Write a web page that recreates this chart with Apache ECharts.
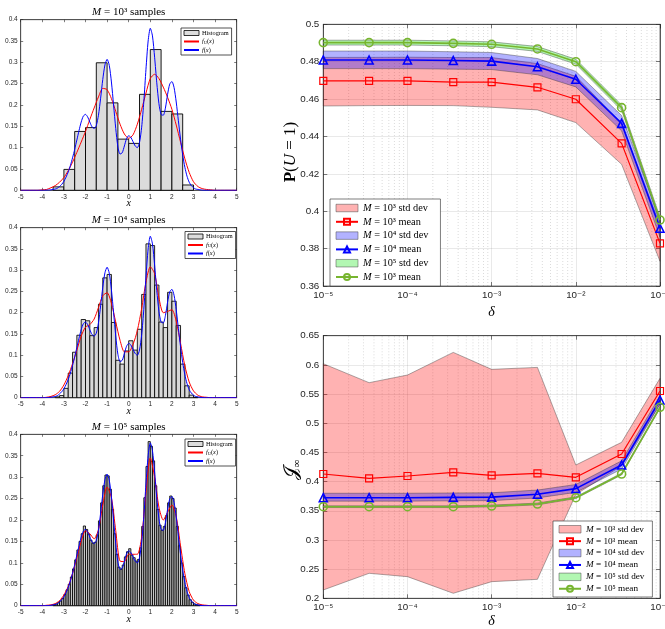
<!DOCTYPE html>
<html><head><meta charset="utf-8">
<script src="https://cdn.jsdelivr.net/npm/echarts@6/dist/echarts.min.js"></script>
<style>html,body{margin:0;padding:0;background:#fff}#c{width:665px;height:629px}</style>
</head><body><div id="c"></div>
<script>
// ---------------- DATA ----------------
// Histograms (bin start, bin width, heights)
const hist1Start = -3.5, hist1Bin = 0.5;
const hist1 = [0.008, 0.049, 0.138, 0.147, 0.299, 0.205, 0.12, 0.11, 0.225, 0.33, 0.185, 0.179, 0.0125];
const hist2Start = -3.4, hist2Bin = 0.2;
const hist2 = [0.002, 0.005, 0.022, 0.058, 0.107, 0.147, 0.184, 0.181, 0.146, 0.165, 0.22, 0.282, 0.29, 0.177,
  0.088, 0.079, 0.11, 0.134, 0.112, 0.161, 0.243, 0.362, 0.358, 0.265, 0.178, 0.165, 0.248, 0.227, 0.17, 0.079,
  0.028, 0.006, 0.001];
const hist3Start = -3.5, hist3Bin = 0.1;
const hist3 = [0.002, 0.004, 0.007, 0.011, 0.017, 0.026, 0.037, 0.05, 0.067, 0.086, 0.107, 0.13, 0.15, 0.168,
  0.186, 0.178, 0.167, 0.153, 0.146, 0.148, 0.165, 0.198, 0.24, 0.28, 0.305, 0.303, 0.272, 0.225, 0.168, 0.12,
  0.09, 0.085, 0.095, 0.114, 0.126, 0.133, 0.118, 0.112, 0.104, 0.108, 0.135, 0.185, 0.252, 0.325, 0.383, 0.372,
  0.338, 0.28, 0.225, 0.188, 0.176, 0.185, 0.21, 0.24, 0.256, 0.25, 0.228, 0.185, 0.14, 0.1, 0.068, 0.042, 0.025,
  0.014, 0.008, 0.004, 0.002, 0.001];

// true density f(x)
const fX = [-5, -4, -3.7, -3.6, -3.5, -3.4, -3.3, -3.2, -3.1, -3.0, -2.9, -2.8, -2.7, -2.6, -2.5, -2.4, -2.3, -2.2, -2.1,
  -2.0, -1.9, -1.8, -1.7, -1.6, -1.5, -1.4, -1.3, -1.2, -1.1, -1.0, -0.9, -0.8, -0.7, -0.6, -0.5, -0.4, -0.3, -0.2,
  -0.1, 0.0, 0.1, 0.2, 0.3, 0.4, 0.5, 0.6, 0.7, 0.8, 0.9, 1.0, 1.1, 1.2, 1.3, 1.4, 1.5, 1.6, 1.7, 1.8, 1.9, 2.0,
  2.1, 2.2, 2.3, 2.4, 2.5, 2.6, 2.7, 2.8, 2.9, 3.0, 3.1, 3.2, 3.3, 3.5, 4, 5];
const fY = [0, 0, 0.0005, 0.001, 0.002, 0.003, 0.005, 0.009, 0.014, 0.021, 0.031, 0.043, 0.058, 0.076, 0.096, 0.118, 0.14,
  0.16, 0.174, 0.178, 0.172, 0.16, 0.149, 0.145, 0.152, 0.176, 0.216, 0.26, 0.294, 0.307, 0.293, 0.254, 0.2, 0.145,
  0.102, 0.085, 0.088, 0.104, 0.121, 0.128, 0.124, 0.114, 0.104, 0.1, 0.112, 0.148, 0.208, 0.284, 0.35, 0.38, 0.362,
  0.312, 0.252, 0.203, 0.178, 0.176, 0.193, 0.225, 0.249, 0.255, 0.241, 0.207, 0.163, 0.12, 0.083, 0.054, 0.033,
  0.019, 0.011, 0.006, 0.003, 0.002, 0.001, 0, 0, 0];

// estimated densities f_U(x)
const fuX = [-5, -4.2, -4.0, -3.8, -3.6, -3.4, -3.2, -3.0, -2.8, -2.6, -2.4, -2.2, -2.0, -1.8, -1.6, -1.4, -1.2, -1.0,
  -0.8, -0.6, -0.4, -0.2, 0.0, 0.2, 0.4, 0.6, 0.8, 1.0, 1.2, 1.4, 1.6, 1.8, 2.0, 2.2, 2.4, 2.6, 2.8, 3.0, 3.2, 3.4,
  3.6, 3.8, 4.0, 5];
const fu1Y = [0, 0, 0.001, 0.002, 0.006, 0.011, 0.019, 0.03, 0.046, 0.066, 0.089, 0.113, 0.138, 0.166, 0.193, 0.219,
  0.239, 0.236, 0.215, 0.185, 0.155, 0.132, 0.122, 0.13, 0.155, 0.19, 0.228, 0.262, 0.272, 0.262, 0.242, 0.218, 0.19,
  0.153, 0.113, 0.074, 0.042, 0.02, 0.009, 0.004, 0.002, 0.001, 0, 0];
const fu2Y = [0, 0, 0, 0.001, 0.003, 0.007, 0.015, 0.03, 0.052, 0.08, 0.112, 0.145, 0.166, 0.172, 0.185, 0.212, 0.24,
  0.247, 0.222, 0.178, 0.135, 0.108, 0.108, 0.125, 0.158, 0.21, 0.272, 0.308, 0.292, 0.235, 0.2, 0.203, 0.207, 0.18,
  0.128, 0.075, 0.037, 0.016, 0.006, 0.002, 0.001, 0, 0, 0];
const fu3Y = [0, 0, 0, 0.001, 0.002, 0.005, 0.012, 0.025, 0.045, 0.075, 0.112, 0.15, 0.175, 0.168, 0.156, 0.178, 0.235,
  0.277, 0.252, 0.175, 0.104, 0.103, 0.12, 0.12, 0.12, 0.16, 0.265, 0.345, 0.3, 0.23, 0.2, 0.218, 0.235, 0.208, 0.14,
  0.075, 0.033, 0.013, 0.005, 0.002, 0.001, 0, 0, 0];

// delta values (right plots)
const delta = [1e-5, 3.5e-5, 1e-4, 3.5e-4, 1e-3, 3.5e-3, 1e-2, 3.5e-2, 1e-1];
// P(U=1)
const pMean3 = [0.4697, 0.4697, 0.4697, 0.4691, 0.4691, 0.4663, 0.4599, 0.4363, 0.3828];
const pLo3 = [0.4563, 0.4565, 0.4566, 0.4565, 0.4556, 0.4542, 0.4474, 0.4251, 0.3732];
const pHi3 = [0.4823, 0.4823, 0.4824, 0.4822, 0.4822, 0.4790, 0.4722, 0.4470, 0.3925];
const pMean4 = [0.4809, 0.4809, 0.4809, 0.4806, 0.4803, 0.4773, 0.4706, 0.4470, 0.3909];
const pLo4 = [0.4763, 0.4763, 0.4763, 0.4760, 0.4758, 0.4730, 0.4665, 0.4430, 0.3862];
const pHi4 = [0.4857, 0.4857, 0.4857, 0.4853, 0.4849, 0.4817, 0.4748, 0.4512, 0.3955];
const pMean5 = [0.4902, 0.4902, 0.4902, 0.4898, 0.4893, 0.4868, 0.4800, 0.4554, 0.3953];
const pLo5 = [0.4889, 0.4889, 0.4889, 0.4885, 0.4880, 0.4855, 0.4787, 0.4540, 0.3938];
const pHi5 = [0.4915, 0.4915, 0.4915, 0.4911, 0.4906, 0.4881, 0.4813, 0.4568, 0.3968];
// J_inf
const jMean3 = [0.4130, 0.4056, 0.4096, 0.4158, 0.4107, 0.4141, 0.4073, 0.4473, 0.5552];
const jLo3 = [0.2143, 0.2428, 0.2371, 0.2086, 0.2285, 0.2325, 0.3780, 0.4270, 0.5330];
const jHi3 = [0.6020, 0.5695, 0.5826, 0.6214, 0.5923, 0.5957, 0.4284, 0.4673, 0.5769];
const jMean4 = [0.3724, 0.3724, 0.3724, 0.3730, 0.3733, 0.3782, 0.3879, 0.4284, 0.5398];
const jLo4 = [0.3665, 0.3665, 0.3665, 0.3670, 0.3673, 0.3720, 0.3815, 0.4215, 0.5325];
const jHi4 = [0.3800, 0.3800, 0.3800, 0.3805, 0.3808, 0.3855, 0.3950, 0.4355, 0.5470];
const jMean5 = [0.3570, 0.3570, 0.3570, 0.3570, 0.3582, 0.3616, 0.3724, 0.4130, 0.5272];
const jLo5 = [0.3555, 0.3555, 0.3555, 0.3555, 0.3567, 0.3601, 0.3709, 0.4115, 0.5257];
const jHi5 = [0.3585, 0.3585, 0.3585, 0.3585, 0.3597, 0.3631, 0.3739, 0.4145, 0.5287];

// ---------------- STYLE / LAYOUT ----------------
const AXC = '#262626';
const SERIF = "'Liberation Serif','DejaVu Serif',serif";
const SANS = "'Liberation Sans','DejaVu Sans',sans-serif";
const RED = '#ff0000', BLUE = '#0000ff', GREEN = '#77b52f';
const leftG = [{top: 19.7, height: 170.6}, {top: 227.7, height: 170}, {top: 434.3, height: 171.4}];
const rightG = [{top: 24.3, height: 261.7}, {top: 335.7, height: 262.6}];

const grid = leftG.map(g => ({left: 20.7, top: g.top, width: 216, height: g.height, show: true,
    outerBoundsMode: 'none', containLabel: false,
    borderColor: AXC, borderWidth: 0.6, backgroundColor: 'transparent'}))
  .concat(rightG.map(g => ({left: 323.3, top: g.top, width: 336.7, height: g.height, show: true,
    outerBoundsMode: 'none', containLabel: false,
    borderColor: AXC, borderWidth: 0.6, backgroundColor: 'transparent'})));

const SUP = {'-': '\u207B', '0': '\u2070', '1': '\u00B9', '2': '\u00B2', '3': '\u00B3', '4': '\u2074', '5': '\u2075'};
function supStr(s) { return String(s).split('').map(c => SUP[c] || c).join(''); }

const xAxis = [], yAxis = [];
function axLine() { return {show: true, onZero: false, lineStyle: {color: AXC, width: 0.6}}; }
for (let g = 0; g < 3; g++) {
  ['bottom', 'top'].forEach(pos => xAxis.push({gridIndex: g, type: 'value', position: pos, min: -5, max: 5, interval: 1,
    axisLine: axLine(), axisTick: {show: true, inside: true, length: 2.5, lineStyle: {color: AXC, width: 0.6}},
    axisLabel: {show: pos === 'bottom', fontSize: 6.5, color: AXC, fontFamily: SANS, margin: 3},
    splitLine: {show: false}}));
  ['left', 'right'].forEach(pos => yAxis.push({gridIndex: g, type: 'value', position: pos, min: 0, max: 0.4, interval: 0.05,
    axisLine: axLine(), axisTick: {show: true, inside: true, length: 2.5, lineStyle: {color: AXC, width: 0.6}},
    axisLabel: {show: pos === 'left', fontSize: 6.5, color: AXC, fontFamily: SANS, margin: 3},
    splitLine: {show: false}}));
}
const rY = [{min: 0.36, max: 0.5, interval: 0.02}, {min: 0.2, max: 0.65, interval: 0.05}];
for (let j = 0; j < 2; j++) {
  const g = 3 + j;
  ['bottom', 'top'].forEach(pos => xAxis.push({gridIndex: g, type: 'log', logBase: 10, position: pos, min: 1e-5, max: 1e-1,
    axisLine: axLine(), axisTick: {show: true, inside: true, length: 4, lineStyle: {color: AXC, width: 0.6}},
    axisLabel: {show: pos === 'bottom', fontSize: 9.8, color: AXC, fontFamily: SANS, margin: 4,
      formatter: v => '10' + supStr(Math.round(Math.log10(v)))},
    splitLine: {show: pos === 'bottom', lineStyle: {color: 'rgba(38,38,38,0.15)', width: 0.7}}}));
  ['left', 'right'].forEach(pos => yAxis.push({gridIndex: g, type: 'value', position: pos,
    min: rY[j].min, max: rY[j].max, interval: rY[j].interval,
    axisLine: axLine(), axisTick: {show: true, inside: true, length: 4, lineStyle: {color: AXC, width: 0.6}},
    axisLabel: {show: pos === 'left', fontSize: 9.8, color: AXC, fontFamily: SANS, margin: 4},
    splitLine: {show: pos === 'left', lineStyle: {color: 'rgba(38,38,38,0.15)', width: 0.7}}}));
}

// ---------------- SERIES ----------------
const series = [];
function histSeries(g, name, start, bin, h, lw, fillC) {
  const data = h.map((v, k) => [start + k * bin, start + (k + 1) * bin, v]);
  series.push({type: 'custom', name, xAxisIndex: 2 * g, yAxisIndex: 2 * g, data, encode: {x: [0, 1], y: 2},
    itemStyle: {color: '#dcdcdc', borderColor: '#000', borderWidth: lw}, silent: true,
    renderItem: function (params, api) {
      const p0 = api.coord([api.value(0), 0]);
      const p1 = api.coord([api.value(1), api.value(2)]);
      return {type: 'rect', shape: {x: p0[0], y: p1[1], width: p1[0] - p0[0], height: p0[1] - p1[1]},
        style: {fill: fillC, stroke: '#000', lineWidth: lw}};
    }});
}
function curve(g, name, xs, ys, color) {
  series.push({type: 'line', name, xAxisIndex: 2 * g, yAxisIndex: 2 * g, data: xs.map((x, k) => [x, ys[k]]),
    symbol: 'none', smooth: 0.25, lineStyle: {color, width: 1}, itemStyle: {color}, silent: true, z: 3});
}
histSeries(0, 'h1', hist1Start, hist1Bin, hist1, 0.9, '#dcdcdc');
curve(0, 'fu1', fuX, fu1Y, RED);
curve(0, 'f1', fX, fY, BLUE);
histSeries(1, 'h2', hist2Start, hist2Bin, hist2, 0.85, '#d8d8d8');
curve(1, 'fu2', fuX, fu2Y, RED);
curve(1, 'f2', fX, fY, BLUE);
histSeries(2, 'h3', hist3Start, hist3Bin, hist3, 0.85, '#c8c8c8');
curve(2, 'fu3', fuX, fu3Y, RED);
curve(2, 'f3', fX, fY, BLUE);

// minor log grid lines (2..9 x each decade)
const minorX = [];
for (let e = -5; e < -1; e++) for (let m = 2; m <= 9; m++) minorX.push(m * Math.pow(10, e));
[[3, 0.36, 0.5], [4, 0.2, 0.65]].forEach(([g, y0, y1]) => series.push({type: 'custom', name: 'minor' + g,
  xAxisIndex: 2 * g, yAxisIndex: 2 * g, data: [[1e-5, y0]], encode: {x: 0, y: 1}, silent: true, z: 1,
  renderItem: function (params, api) {
    return {type: 'group', children: minorX.map(v => {
      const a = api.coord([v, y0]), b = api.coord([v, y1]);
      return {type: 'line', shape: {x1: a[0], y1: a[1], x2: b[0], y2: b[1]},
        style: {stroke: 'rgba(38,38,38,0.28)', lineWidth: 0.6, lineDash: [1, 2]}};
    })};
  }}));

function band(g, name, lo, hi, fill) {
  series.push({type: 'custom', name, xAxisIndex: 2 * g, yAxisIndex: 2 * g,
    data: delta.map((x, k) => [x, lo[k], hi[k]]), encode: {x: 0, y: [1, 2]}, silent: true,
    itemStyle: {color: fill, borderColor: '#333', borderWidth: 0.5},
    renderItem: function (params, api) {
      if (params.dataIndex !== 0) return;
      const pts = [];
      for (let k = 0; k < delta.length; k++) pts.push(api.coord([delta[k], hi[k]]));
      for (let k = delta.length - 1; k >= 0; k--) pts.push(api.coord([delta[k], lo[k]]));
      return {type: 'polygon', shape: {points: pts}, style: {fill, stroke: 'rgba(50,50,50,0.8)', lineWidth: 0.5}};
    }});
}
function mean(g, name, ys, color, sym, size, lw) {
  series.push({type: 'line', name, xAxisIndex: 2 * g, yAxisIndex: 2 * g, data: delta.map((x, k) => [x, ys[k]]),
    symbol: sym, symbolSize: size, showSymbol: true, lineStyle: {color, width: lw},
    itemStyle: {color: 'rgba(255,255,255,0)', borderColor: color, borderWidth: lw}, silent: true, z: 4});
}

const F3 = 'rgba(255,0,0,0.3)', F4 = 'rgba(0,0,255,0.3)', F5 = 'rgba(0,230,0,0.3)';
band(3, 'ta3', pLo3, pHi3, F3); mean(3, 'tm3', pMean3, RED, 'rect', 7, 1.2);
band(3, 'ta4', pLo4, pHi4, F4); mean(3, 'tm4', pMean4, BLUE, 'triangle', 8, 1.6);
band(3, 'ta5', pLo5, pHi5, F5); mean(3, 'tm5', pMean5, GREEN, 'circle', 8, 1.6);
band(4, 'ba3', jLo3, jHi3, F3); mean(4, 'bm3', jMean3, RED, 'rect', 7, 1.2);
band(4, 'ba4', jLo4, jHi4, F4); mean(4, 'bm4', jMean4, BLUE, 'triangle', 8, 1.6);
band(4, 'ba5', jLo5, jHi5, F5); mean(4, 'bm5', jMean5, GREEN, 'circle', 8, 1.6);

// ---------------- LEGENDS ----------------
const LBL = {
  h1: 'Histogram', fu1: '{i|f}{sub|U}({i|x})', f1: '{i|f}({i|x})',
  h2: 'Histogram', fu2: '{i|f}{sub|U}({i|x})', f2: '{i|f}({i|x})',
  h3: 'Histogram', fu3: '{i|f}{sub|U}({i|x})', f3: '{i|f}({i|x})',
  ta3: '{i|M} = 10\u00B3 std dev', tm3: '{i|M} = 10\u00B3 mean', ta4: '{i|M} = 10\u2074 std dev',
  tm4: '{i|M} = 10\u2074 mean', ta5: '{i|M} = 10\u2075 std dev', tm5: '{i|M} = 10\u00B3 mean',
  ba3: '{i|M} = 10\u00B3 std dev', bm3: '{i|M} = 10\u00B3 mean', ba4: '{i|M} = 10\u2074 std dev',
  bm4: '{i|M} = 10\u2074 mean', ba5: '{i|M} = 10\u2075 std dev', bm5: '{i|M} = 10\u2075 mean'
};
const NOSYM = {color: 'rgba(0,0,0,0)', borderWidth: 0, borderColor: 'rgba(0,0,0,0)'};
function leftLegend(k, left, top) {
  return {left, top, orient: 'vertical', selectedMode: false, itemWidth: 15, itemHeight: 5, itemGap: 1.5,
    padding: [1.5, 3, 1.5, 2], backgroundColor: '#fff', borderColor: AXC, borderWidth: 0.8, borderRadius: 0,
    formatter: n => LBL[n],
    textStyle: {fontFamily: SERIF, fontSize: 6.3, color: '#000', lineHeight: 7, padding: [0, 0, 0, -2],
      rich: {i: {fontStyle: 'italic', fontFamily: SERIF, fontSize: 6.3},
        sub: {fontStyle: 'italic', fontFamily: SERIF, fontSize: 4.5, verticalAlign: 'bottom', lineHeight: 7}}},
    data: [{name: 'h' + k, icon: 'rect', itemStyle: {color: '#dcdcdc', borderColor: '#000', borderWidth: 0.8}},
      {name: 'fu' + k, itemStyle: NOSYM}, {name: 'f' + k, itemStyle: NOSYM}]};
}
function rightLegend(p, left, top, fs, lh, gap, padR) {
  const items = [];
  [['a3', F3], ['m3'], ['a4', F4], ['m4'], ['a5', F5], ['m5']].forEach(e => {
    if (e[1]) items.push({name: p + e[0], icon: 'rect', itemStyle: {color: e[1], borderColor: '#444', borderWidth: 0.5}});
    else items.push({name: p + e[0]});
  });
  return {left, top, orient: 'vertical', selectedMode: false, itemWidth: 22, itemHeight: 7.5, itemGap: gap,
    padding: [3, padR, 3, 5], backgroundColor: '#fff', borderColor: AXC, borderWidth: 0.6, borderRadius: 0,
    formatter: n => LBL[n],
    textStyle: {fontFamily: SERIF, fontSize: fs, color: '#000', lineHeight: lh,
      rich: {i: {fontStyle: 'italic', fontFamily: SERIF, fontSize: fs, lineHeight: lh}}},
    data: items};
}
const legend = [leftLegend(1, 181, 28), leftLegend(2, 185, 231.5), leftLegend(3, 185, 439),
  rightLegend('t', 330, 199, 10.3, 12, 1.8, 12), rightLegend('b', 553, 521, 9.2, 10.5, 1.4, 8)];

// ---------------- TEXT ----------------
function txt(x, y, text, fs, rich, rot) {
  return {type: 'text', x, y, rotation: rot || 0, silent: true,
    style: {text, fontSize: fs, fontFamily: SERIF, fill: '#000', align: 'center', verticalAlign: 'middle', rich: rich || {}}};
}
const IT = fs => ({i: {fontStyle: 'italic', fontFamily: SERIF, fontSize: fs, fill: '#000'}});
const graphic = [
  txt(128.7, 12, '{i|M} = 10\u00B3 samples', 11, IT(11)),
  txt(128.7, 220.5, '{i|M} = 10\u2074 samples', 11, IT(11)),
  txt(128.7, 427, '{i|M} = 10\u2075 samples', 11, IT(11)),
  txt(128.7, 203.5, '{i|x}', 10, IT(10)),
  txt(128.7, 411, '{i|x}', 10, IT(10)),
  txt(128.7, 619, '{i|x}', 10, IT(10)),
  txt(491.6, 312, '{i|\u03B4}', 14, IT(14)),
  txt(491.6, 621, '{i|\u03B4}', 14, IT(14)),
  txt(291, 152, '{b|P}({i|U} = 1)', 17, {b: {fontWeight: 'bold', fontFamily: SERIF, fontSize: 17, fill: '#000'},
    i: {fontStyle: 'italic', fontFamily: SERIF, fontSize: 17, fill: '#000'}}, Math.PI / 2),
  txt(292, 470, '{J|\uD835\uDCA5}{s|\u221E}', 17, {J: {fontFamily: SERIF, fontSize: 19, fill: '#000', lineHeight: 22},
    s: {fontFamily: SERIF, fontSize: 11, fill: '#000', verticalAlign: 'bottom', lineHeight: 22}}, Math.PI / 2)
];

const chart = echarts.init(document.getElementById('c'), null, {renderer: 'canvas'});
chart.setOption({animation: false, backgroundColor: '#fff', grid, xAxis, yAxis, series, legend, graphic});
</script></body></html>
